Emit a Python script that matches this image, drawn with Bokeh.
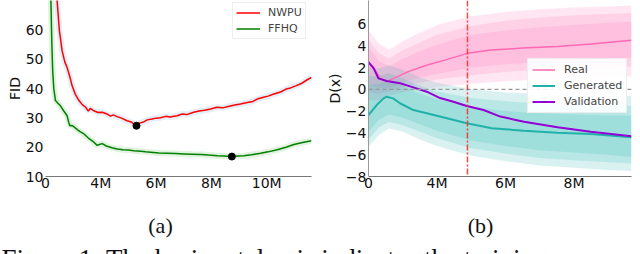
from bokeh.plotting import figure
from bokeh.models import Range1d, Span, Legend, LegendItem, Label, FixedTicker
from bokeh.layouts import column, row
from bokeh.embed import file_html
from bokeh.resources import INLINE

# ---------------- data (x in millions of steps) ----------------
nwpu_x = [2.38, 2.42, 2.50, 2.60, 2.70, 2.78, 2.88, 2.96, 3.08, 3.21, 3.33, 3.45, 3.55, 3.62,
          3.75, 3.90, 4.05, 4.23, 4.35, 4.45, 4.59, 4.75, 4.95, 5.10, 5.20, 5.29, 5.40, 5.55,
          5.68, 5.85, 6.00, 6.16, 6.35, 6.50, 6.76, 6.95, 7.10, 7.36, 7.55, 7.75, 7.97, 8.20,
          8.40, 8.57, 8.80, 9.05, 9.30, 9.50, 9.66, 9.85, 10.05, 10.26, 10.50, 10.70, 10.86,
          11.05, 11.25, 11.45, 11.62]
nwpu_fid = [72, 69.9, 60, 52.9, 49, 47.2, 44, 41, 38, 35.9, 34.5, 33.6, 32.3, 33.2,
            32.4, 31.8, 31.9, 31.3, 30.6, 31.0, 30.4, 29.9, 29.0, 28.6, 27.8, 27.3, 28.2, 28.6,
            29.3, 29.6, 29.9, 30.0, 30.5, 30.3, 30.7, 31.3, 31.1, 31.9, 32.3, 32.6, 33.0, 33.6,
            33.4, 33.8, 34.3, 34.7, 35.2, 35.6, 36.4, 36.9, 37.4, 38.1, 38.8, 39.8, 40.2,
            40.9, 41.7, 42.9, 43.8]
ffhq_x = [2.18, 2.20, 2.23, 2.26, 2.30, 2.36, 2.45, 2.54, 2.65, 2.78, 2.84, 2.88, 2.95, 3.02,
          3.15, 3.25, 3.39, 3.55, 3.75, 3.87, 3.95, 4.05, 4.20, 4.40, 4.59, 4.80, 5.00, 5.19,
          5.45, 5.62, 5.80, 6.10, 6.40, 6.70, 7.00, 7.30, 7.61, 7.90, 8.21, 8.45, 8.74, 8.95,
          9.17, 9.45, 9.78, 10.05, 10.38, 10.70, 10.98, 11.30, 11.62]
ffhq_fid = [75, 68, 55, 46, 40, 35.9, 35, 34.1, 32.5, 30.7, 28.5, 27.3, 27.4, 27.0,
            26, 25.3, 24.5, 23.1, 21.7, 20.6, 20.9, 21.2, 20.4, 19.8, 19.4, 19.1, 19.0, 18.8,
            18.6, 18.4, 18.3, 18.0, 17.9, 17.8, 17.7, 17.6, 17.5, 17.3, 17.1, 17.0, 16.8, 17.0,
            17.1, 17.4, 17.9, 18.4, 19.1, 20.0, 20.9, 21.6, 22.2]
best_x = [5.29, 8.74]
best_fid = [27.3, 16.8]

fid_ticks = [2, 4, 6, 8, 10]
fid_tick_labels = ["0", "4M", "6M", "8M", "10M"]
fid_yticks = [10, 20, 30, 40, 50, 60]

real_x = [2.0, 2.2, 2.35, 2.55, 2.74, 3.14, 3.72, 4.3, 4.89, 5.57, 6.5, 7.52, 8.5, 9.68]
real_d = [2.4, 1.7, 1.0, 0.75, 1.0, 1.6, 2.23, 2.75, 3.3, 3.6, 3.78, 3.92, 4.15, 4.5]
val_x = [2.0, 2.15, 2.29, 2.53, 2.92, 3.31, 3.7, 4.09, 4.48, 4.87, 5.36, 5.85, 6.54, 7.52, 8.49, 9.68]
val_d = [2.5, 1.95, 1.0, 0.76, 0.55, 0.18, -0.22, -0.8, -1.14, -1.53, -1.9, -2.5, -2.97, -3.49, -3.89, -4.3]
gen_x = [2.0, 2.24, 2.44, 2.53, 2.72, 2.92, 3.31, 3.7, 4.29, 4.87, 5.6, 6.54, 7.52, 8.49, 9.68]
gen_d = [-2.36, -1.44, -0.83, -0.68, -0.83, -1.28, -1.9, -2.2, -2.66, -3.12, -3.58, -3.8, -3.98, -4.1, -4.4]

band_x = [2.0, 2.3, 2.6, 3.0, 3.5, 4.0, 5.0, 6.0, 7.0, 8.0, 9.0, 9.68]
real_outer_hi = [5.4, 4.2, 3.6, 4.4, 5.2, 5.9, 6.7, 7.1, 7.35, 7.5, 7.6, 7.7]
real_outer_lo = [-1.0, -1.0, -0.6, -0.3, 0.0, 0.2, 0.5, 0.75, 0.9, 1.0, 1.1, 1.2]
real_mid_hi = [4.6, 3.3, 2.8, 3.6, 4.3, 5.0, 5.8, 6.3, 6.6, 6.8, 6.9, 7.0]
real_mid_lo = [-0.3, -0.4, -0.2, 0.2, 0.6, 0.9, 1.3, 1.6, 1.8, 1.9, 2.0, 2.1]
real_in_hi = [3.9, 2.6, 2.1, 2.8, 3.5, 4.1, 5.0, 5.4, 5.7, 5.9, 6.1, 6.2]
real_in_lo = [0.4, 0.2, 0.1, 0.6, 1.1, 1.4, 2.0, 2.3, 2.5, 2.6, 2.8, 2.9]
gen_outer_hi = [2.0, 1.9, 2.2, 1.8, 1.1, 0.6, 0.0, -0.3, -0.4, -0.5, -0.6, -0.6]
gen_outer_lo = [-5.3, -4.2, -3.6, -3.9, -4.6, -5.2, -6.1, -6.6, -7.0, -7.2, -7.4, -7.5]
gen_mid_hi = [1.2, 1.2, 1.5, 1.0, 0.3, -0.2, -0.8, -1.1, -1.3, -1.4, -1.5, -1.5]
gen_mid_lo = [-4.6, -3.5, -3.0, -3.3, -3.9, -4.5, -5.4, -5.9, -6.3, -6.5, -6.7, -6.8]
gen_in_hi = [0.4, 0.5, 0.8, 0.3, -0.4, -0.9, -1.6, -2.0, -2.2, -2.3, -2.4, -2.4]
gen_in_lo = [-3.9, -2.8, -2.3, -2.6, -3.2, -3.8, -4.7, -5.2, -5.6, -5.8, -6.0, -6.2]

checkpoint_x = 4.89
d_ticks = [2, 4, 6, 8]
d_tick_labels = ["0", "4M", "6M", "8M"]
d_yticks = [-8, -6, -4, -2, 0, 2, 4, 6]
d_ytick_labels = ["\u22128", "\u22126", "\u22124", "\u22122", "0", "2", "4", "6"]

FONT = "DejaVu Sans"


def style_axes(p, xt, xl, yt, yl, ylabel, left_line=True):
    p.xaxis.ticker = FixedTicker(ticks=xt)
    p.xaxis.major_label_overrides = {t: l for t, l in zip(xt, xl)}
    p.yaxis.ticker = FixedTicker(ticks=yt)
    p.yaxis.major_label_overrides = {t: l for t, l in zip(yt, yl)}
    for ax in (p.xaxis[0], p.yaxis[0]):
        ax.major_tick_line_color = None
        ax.minor_tick_line_color = None
        ax.major_tick_out = 0
        ax.major_tick_in = 0
        ax.minor_tick_out = 0
        ax.major_label_text_font = FONT
        ax.major_label_text_font_size = "14px"
        ax.major_label_text_color = "#111111"
        ax.major_label_standoff = 2
        ax.axis_line_color = "#777777"
    p.xaxis.major_label_standoff = -2
    p.yaxis.axis_label = ylabel
    p.yaxis.axis_label_text_font = FONT
    p.yaxis.axis_label_text_font_size = "14px"
    p.yaxis.axis_label_text_font_style = "normal"
    p.yaxis.axis_label_text_color = "#111111"
    p.yaxis.axis_label_standoff = 0
    if not left_line:
        p.yaxis.axis_line_color = None
    p.grid.visible = False
    p.outline_line_color = None


# ---------------- (a) FID ----------------
p1 = figure(frame_width=266, frame_height=176, x_range=Range1d(2, 11.62), y_range=Range1d(10, 70),
            toolbar_location=None, output_backend="svg",
            min_border_left=45, min_border_right=9, min_border_top=0, min_border_bottom=24)
style_axes(p1, fid_ticks, fid_tick_labels, fid_yticks, [str(v) for v in fid_yticks], "FID", left_line=False)

p1.line(nwpu_x, nwpu_fid, color="#b0cde6", line_width=6, line_alpha=0.35)
p1.line(ffhq_x, ffhq_fid, color="#a8dca0", line_width=6, line_alpha=0.35)
r_nwpu = p1.line(nwpu_x, nwpu_fid, color="#ff0000", line_width=1.5)
r_ffhq = p1.line(ffhq_x, ffhq_fid, color="#008000", line_width=1.5)
p1.scatter(best_x, best_fid, size=7, color="black")

leg1 = Legend(items=[LegendItem(label="NWPU", renderers=[r_nwpu]),
                     LegendItem(label="FFHQ", renderers=[r_ffhq])],
              location=(187, 137), orientation="vertical",
              label_text_font=FONT, label_text_font_size="11px",
              glyph_width=24, glyph_height=13, label_height=13, spacing=3,
              padding=3, margin=0, label_standoff=8,
              border_line_color="#dddddd", background_fill_alpha=0.9)
p1.add_layout(leg1)

# ---------------- (b) D(x) ----------------
p2 = figure(frame_width=263, frame_height=176, x_range=Range1d(2, 9.68), y_range=Range1d(-8, 8.15),
            toolbar_location=None, output_backend="svg",
            min_border_left=48, min_border_right=9, min_border_top=0, min_border_bottom=24)
style_axes(p2, d_ticks, d_tick_labels, d_yticks, d_ytick_labels, "D(x)")
p2.yaxis.axis_line_color = "#999999"

pink = "#ff69b4"
teal = "#20b2aa"
for lo, hi in ((real_outer_lo, real_outer_hi), (real_mid_lo, real_mid_hi), (real_in_lo, real_in_hi)):
    p2.varea(x=band_x, y1=lo, y2=hi, fill_color=pink, fill_alpha=0.17)
for lo, hi in ((gen_outer_lo, gen_outer_hi), (gen_mid_lo, gen_mid_hi), (gen_in_lo, gen_in_hi)):
    p2.varea(x=band_x, y1=lo, y2=hi, fill_color=teal, fill_alpha=0.17)

zero = Span(location=0, dimension="width", line_color="#999999", line_dash="4 3", line_width=1.2, level="glyph")
p2.add_layout(zero)

r_real = p2.line(real_x, real_d, color=pink, line_width=1.5)
r_gen = p2.line(gen_x, gen_d, color=teal, line_width=2)
r_val = p2.line(val_x, val_d, color="#9400d3", line_width=2)

vline = Span(location=checkpoint_x, dimension="height", line_color="#ff3030", line_alpha=0.9,
             line_dash="6 2 2 2", line_width=1.5)
p2.add_layout(vline)

leg2 = Legend(items=[LegendItem(label="Real", renderers=[r_real]),
                     LegendItem(label="Generated", renderers=[r_gen]),
                     LegendItem(label="Validation", renderers=[r_val])],
              location=(159, 63), orientation="vertical",
              label_text_font=FONT, label_text_font_size="11px",
              glyph_width=23, glyph_height=13, label_height=13, spacing=3,
              padding=4, margin=0, label_standoff=9,
              border_line_color="#dddddd", background_fill_alpha=0.9)
p2.add_layout(leg2)

# ---------------- captions ----------------
cap = figure(width=640, height=54, x_range=Range1d(0, 640), y_range=Range1d(0, 54),
             toolbar_location=None, output_backend="svg", min_border=0,
             x_axis_location=None, y_axis_location=None)
cap.grid.visible = False
cap.outline_line_color = None
SERIF = "Liberation Serif"
cap.add_layout(Label(x=160, y=29.4, text="(a)", text_align="center", text_baseline="alphabetic",
                     text_font=SERIF, text_font_size="22px", text_color="#111111"))
cap.add_layout(Label(x=480, y=29.4, text="(b)", text_align="center", text_baseline="alphabetic",
                     text_font=SERIF, text_font_size="22px", text_color="#111111"))
cap.add_layout(Label(x=1, y=-4, text="Figure 1: The horizontal axis indicates the training process",
                     text_align="left", text_baseline="alphabetic",
                     text_font=SERIF, text_font_size="27px", text_color="#111111"))

layout = column(row(p1, p2), cap)
open("out.html", "w").write(file_html(layout, INLINE))
